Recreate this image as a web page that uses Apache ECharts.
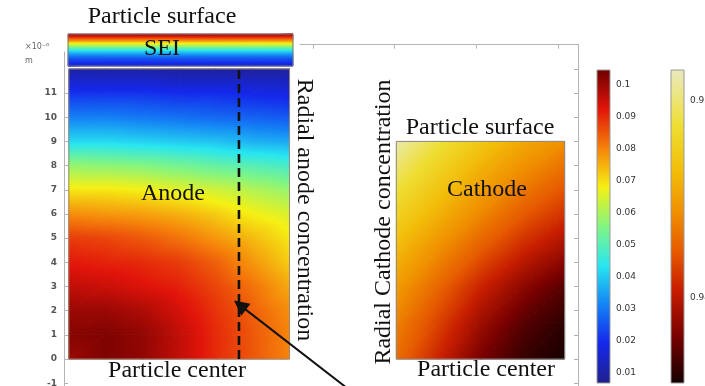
<!DOCTYPE html>
<html>
<head>
<meta charset="utf-8">
<script src="https://cdn.jsdelivr.net/npm/echarts@6/dist/echarts.min.js"></script>
<style>
html,body{margin:0;padding:0;background:#fff}
#chart{width:705px;height:386px}
</style>
</head>
<body>
<div id="chart"></div>
<script>
// anode particle (x, y in 1e-6 m), concentration at grid nodes, rows from y=0 upward
var anodeX = [0.2, 1.72, 3.24, 4.76, 6.28, 7.8, 9.32];
var anodeY = [0, 1, 2, 3, 4, 5, 6, 7, 8, 9, 10, 11, 12];
var anodeC = [
  [0.100, 0.103, 0.101, 0.096, 0.090, 0.085, 0.080],
  [0.102, 0.103, 0.101, 0.096, 0.090, 0.085, 0.080],
  [0.100, 0.100, 0.098, 0.094, 0.089, 0.084, 0.079],
  [0.096, 0.095, 0.093, 0.091, 0.087, 0.082, 0.076],
  [0.092, 0.091, 0.090, 0.088, 0.084, 0.078, 0.072],
  [0.088, 0.087, 0.085, 0.082, 0.078, 0.074, 0.069],
  [0.079, 0.078, 0.077, 0.075, 0.072, 0.068, 0.065],
  [0.069, 0.069, 0.068, 0.066, 0.064, 0.061, 0.058],
  [0.058, 0.057, 0.056, 0.054, 0.052, 0.050, 0.048],
  [0.042, 0.042, 0.041, 0.040, 0.039, 0.037, 0.036],
  [0.031, 0.031, 0.030, 0.029, 0.028, 0.027, 0.026],
  [0.021, 0.021, 0.021, 0.020, 0.020, 0.019, 0.018],
  [0.010, 0.010, 0.010, 0.009, 0.009, 0.009, 0.009]
];
// SEI layer on top of the anode
var seiX = [0.17, 9.46];
var seiY = [12.12, 12.45, 12.70, 12.94, 13.19, 13.44];
var seiC = [
  [0.016, 0.016],
  [0.026, 0.026],
  [0.039, 0.039],
  [0.058, 0.058],
  [0.080, 0.080],
  [0.100, 0.100]
];
// cathode particle
var cathodeX = [1.02, 1.535, 2.05, 2.57, 3.08];
var cathodeY = [0, 1.5, 3, 4.5, 6, 7.5, 9];
var cathodeC = [
  [0.9430, 0.9406, 0.9381, 0.9365, 0.9358],
  [0.9438, 0.9416, 0.9392, 0.9373, 0.9363],
  [0.9449, 0.9428, 0.9406, 0.9387, 0.9373],
  [0.9462, 0.9443, 0.9424, 0.9406, 0.9392],
  [0.9478, 0.9459, 0.9441, 0.9424, 0.9411],
  [0.9494, 0.9474, 0.9455, 0.9440, 0.9427],
  [0.9511, 0.9490, 0.9471, 0.9455, 0.9444]
];
// probe line and arrow
var probeLine = [[7.23, 0], [7.23, 12]];
var arrowLine = [[11.9, -1.36], [7.27, 2.23]];
// colour ranges
var anodeRange = [0.0069, 0.1047];
var anodeTicks = [0.01, 0.1];
var cathodeRange = [0.935685, 0.951574];
var cathodeTicks = [0.94, 0.95];

var jet = [[0,[32,32,140]],[0.13,[20,40,235]],[0.25,[20,130,245]],[0.375,[40,230,240]],[0.5,[130,245,130]],
  [0.625,[245,240,20]],[0.75,[245,130,10]],[0.875,[225,20,10]],[1,[110,0,0]]];
var hot = [[0,[20,0,0]],[0.15,[120,0,0]],[0.3,[200,30,0]],[0.42,[230,90,0]],[0.55,[240,145,0]],
  [0.68,[242,190,10]],[0.82,[238,222,50]],[0.92,[236,230,130]],[1,[234,232,190]]];

function cmapColor(cmap, t)
{
	t = Math.max(0, Math.min(1, t));
	for (var k = 1; k < cmap.length; k++) {
		if (t <= cmap[k][0]) {
			var a = cmap[k-1], b = cmap[k];
			var s = (t - a[0]) / (b[0] - a[0]);
			var c = [0,1,2].map(function(m){ return Math.round(a[1][m] + (b[1][m]-a[1][m])*s); });
			return 'rgb(' + c.join(',') + ')';
		}
	}
	return 'rgb(' + cmap[cmap.length-1][1].join(',') + ')';
}

// one triangle, filled with a gradient along its value slope
function tri(P, f, cmap, range)
{
	var span = range[1] - range[0];
	var col = function(v){ return cmapColor(cmap, (v - range[0]) / span); };
	var e1x = P[1][0]-P[0][0], e1y = P[1][1]-P[0][1];
	var e2x = P[2][0]-P[0][0], e2y = P[2][1]-P[0][1];
	var d1 = f[1]-f[0], d2 = f[2]-f[0];
	var det = e1x*e2y - e1y*e2x;
	var lo = 0, hi = 0;
	for (var k = 1; k < 3; k++) { if (f[k] < f[lo]) lo = k; if (f[k] > f[hi]) hi = k; }
	var fill;
	var d = f[hi] - f[lo];
	if (Math.abs(det) < 1e-9 || d < 1e-9) {
		fill = col(f[0]);
	} else {
		var gx = (d1*e2y - d2*e1y)/det, gy = (e1x*d2 - e2x*d1)/det;
		var g2 = gx*gx + gy*gy;
		var ax = P[lo][0], ay = P[lo][1];
		var bx = ax + gx/g2*d, by = ay + gy/g2*d;
		// stops at the ends and at every colour-map knot in between
		var stops = [{offset: 0, color: col(f[lo])}];
		cmap.forEach(function(c){
			var v = range[0] + c[0]*span;
			if (v > f[lo] && v < f[hi]) stops.push({offset: (v - f[lo])/d, color: col(v)});
		});
		stops.push({offset: 1, color: col(f[hi])});
		fill = new echarts.graphic.LinearGradient(ax, ay, bx, by, stops, true);
	}
	// stroke with the same paint so the shared edges have no light seams
	return {type: 'polygon', shape: {points: P},
		style: {fill: fill, stroke: fill, lineWidth: 1, lineJoin: 'round'}};
}

function fieldSeries(xs, ys, vals, cmap, range, axisIdx)
{
	var cells = [];
	for (var j = 0; j < ys.length-1; j++)
		for (var i = 0; i < xs.length-1; i++) cells.push([i, j]);
	return {
		type: 'custom', xAxisIndex: axisIdx, yAxisIndex: axisIdx, silent: true, clip: false,
		data: cells,
		renderItem: function(params, api) {
			var i = api.value(0), j = api.value(1);
			var p00 = api.coord([xs[i], ys[j]]), p10 = api.coord([xs[i+1], ys[j]]);
			var p11 = api.coord([xs[i+1], ys[j+1]]), p01 = api.coord([xs[i], ys[j+1]]);
			var v00 = vals[j][i], v10 = vals[j][i+1], v11 = vals[j+1][i+1], v01 = vals[j+1][i];
			return {type: 'group', children: [
				tri([p00, p10, p11], [v00, v10, v11], cmap, range),
				tri([p00, p11, p01], [v00, v11, v01], cmap, range)
			]};
		}
	};
}

function outlineSeries(xs, ys, axisIdx, color)
{
	return {
		type: 'custom', xAxisIndex: axisIdx, yAxisIndex: axisIdx, silent: true,
		data: [[xs[0], ys[0], xs[xs.length-1], ys[ys.length-1]]],
		renderItem: function(params, api) {
			var a = api.coord([api.value(0), api.value(1)]);
			var b = api.coord([api.value(2), api.value(3)]);
			return {type: 'rect', shape: {x: a[0], y: b[1], width: b[0]-a[0], height: a[1]-b[1]},
				style: {fill: null, stroke: color, lineWidth: 1}};
		}
	};
}

function barSeries(range, cmap, axisIdx, yIdx)
{
	var stops = cmap.map(function(c){ return {offset: c[0], color: 'rgb(' + c[1].join(',') + ')'}; });
	return {
		type: 'custom', xAxisIndex: axisIdx, yAxisIndex: yIdx, silent: true,
		data: [[0, range[0], 1, range[1]]],
		renderItem: function(params, api) {
			var a = api.coord([api.value(0), api.value(1)]);
			var b = api.coord([api.value(2), api.value(3)]);
			return {type: 'rect', shape: {x: a[0], y: b[1], width: b[0]-a[0], height: a[1]-b[1]},
				style: {fill: new echarts.graphic.LinearGradient(0, 1, 0, 0, stops), stroke: '#9a9a9a', lineWidth: 1}};
		}
	};
}

var myChart = echarts.init(document.getElementById('chart'), null, {renderer: 'canvas'});
var axisGray = '#b4b4b4';
var hidden = {show: false};
var noZeroLine = {show: true, onZero: false, lineStyle: {color: axisGray}};
var noLine = {show: false, onZero: false};
var serif = '"Liberation Serif", "Times New Roman", serif';
var sans = '"DejaVu Sans", sans-serif';

function txt(x, y, s, rot)
{
	return {type: 'text', x: x, y: y, z: 100, rotation: rot || 0, silent: true,
		style: {text: s, font: '24px ' + serif, fill: '#111', textAlign: 'center', align: 'center',
			textVerticalAlign: 'middle', verticalAlign: 'middle'}};
}
function gridAt(l, t, w, h)
{
	return {left: l, top: t, width: w, height: h, containLabel: false, outerBoundsMode: 'none'};
}

var option = {
	animation: false,
	backgroundColor: '#fff',
	grid: [
		gridAt(64, 52, 484, 355.4),
		gridAt(64, 93.02, 484, 314.38),
		gridAt(300, 44.7, 278, 362.7),
		gridAt(313, 44.7, 265, 362.7),
		gridAt(597, 70, 13, 313),
		gridAt(597, 85, 13, 288),
		gridAt(671, 70, 13, 313),
		gridAt(671, 101, 13, 197)
	],
	xAxis: [
		{gridIndex: 0, type: 'value', min: 0, max: 20, show: false},
		{gridIndex: 1, type: 'value', min: 0, max: 20, show: false},
		{gridIndex: 2, type: 'value', min: 0, max: 1, position: 'top',
			axisLine: noZeroLine, axisTick: hidden, axisLabel: hidden, splitLine: hidden},
		{gridIndex: 3, type: 'value', min: 0, max: 3.2436, interval: 1, position: 'top',
			axisLine: noLine, axisTick: {show: true, inside: true, length: 4, lineStyle: {color: axisGray}},
			axisLabel: hidden, splitLine: hidden},
		{gridIndex: 4, type: 'value', min: 0, max: 1, show: false},
		{gridIndex: 5, type: 'value', min: 0, max: 1, show: false},
		{gridIndex: 6, type: 'value', min: 0, max: 1, show: false},
		{gridIndex: 7, type: 'value', min: 0, max: 1, show: false}
	],
	yAxis: [
		{gridIndex: 0, type: 'value', min: -2, max: 12.7,
			axisLine: noZeroLine, axisTick: hidden, axisLabel: hidden, splitLine: hidden},
		{gridIndex: 1, type: 'value', min: -2, max: 11, interval: 1,
			axisLine: noLine, axisTick: {show: true, inside: true, length: 4, lineStyle: {color: axisGray}},
			axisLabel: {margin: 7, color: '#555', fontSize: 9, fontWeight: 'bold', fontFamily: sans},
			splitLine: hidden},
		{gridIndex: 2, type: 'value', min: -2, max: 13, interval: 1, position: 'right',
			axisLine: noZeroLine,
			axisTick: {show: true, inside: true, length: 4, lineStyle: {color: axisGray}},
			axisLabel: hidden, splitLine: hidden},
		{gridIndex: 3, type: 'value', min: -2, max: 13, show: false},
		{gridIndex: 4, type: 'value', min: anodeRange[0], max: anodeRange[1], show: false},
		{gridIndex: 5, type: 'value', min: anodeTicks[0], max: anodeTicks[1], interval: 0.01, position: 'right',
			axisLine: noLine, axisTick: {show: true, inside: true, length: 3, lineStyle: {color: '#333'}},
			axisLabel: {margin: 6, color: '#333', fontSize: 9, fontFamily: sans}, splitLine: hidden},
		{gridIndex: 5, type: 'value', min: anodeTicks[0], max: anodeTicks[1], interval: 0.01, position: 'left',
			axisLine: noLine, axisTick: {show: true, inside: true, length: 3, lineStyle: {color: '#333'}},
			axisLabel: hidden, splitLine: hidden},
		{gridIndex: 6, type: 'value', min: cathodeRange[0], max: cathodeRange[1], show: false},
		{gridIndex: 7, type: 'value', min: cathodeTicks[0], max: cathodeTicks[1], interval: 0.01, position: 'right',
			axisLine: noLine, axisTick: {show: true, inside: true, length: 3, lineStyle: {color: '#555'}},
			axisLabel: {margin: 6, color: '#333', fontSize: 9, fontFamily: sans}, splitLine: hidden},
		{gridIndex: 7, type: 'value', min: cathodeTicks[0], max: cathodeTicks[1], interval: 0.01, position: 'left',
			axisLine: noLine, axisTick: {show: true, inside: true, length: 3, lineStyle: {color: '#555'}},
			axisLabel: hidden, splitLine: hidden}
	],
	series: [
		fieldSeries(seiX, seiY, seiC, jet, anodeRange, 0),
		outlineSeries(seiX, seiY, 0, '#7a7a7a'),
		fieldSeries(anodeX, anodeY, anodeC, jet, anodeRange, 0),
		outlineSeries(anodeX, anodeY, 0, '#9a8a7a'),
		fieldSeries(cathodeX, cathodeY, cathodeC, hot, cathodeRange, 3),
		outlineSeries(cathodeX, cathodeY, 3, '#8a8a8a'),
		{
			type: 'line', xAxisIndex: 0, yAxisIndex: 0, data: probeLine, symbol: 'none', silent: true,
			lineStyle: {color: '#111', width: 2.6, type: [9, 5]}
		},
		{
			type: 'lines', coordinateSystem: 'cartesian2d', xAxisIndex: 0, yAxisIndex: 0, silent: true,
			symbol: ['none', 'triangle'], symbolSize: [11, 15],
			lineStyle: {color: '#111', width: 2, opacity: 1},
			data: [{coords: arrowLine}]
		},
		barSeries(anodeRange, jet, 4, 4),
		barSeries(cathodeRange, hot, 6, 7)
	],
	graphic: [
		txt(162, 17, 'Particle surface'),
		txt(162, 49, 'SEI'),
		txt(173, 194, 'Anode'),
		txt(177, 371, 'Particle center'),
		txt(304, 210, 'Radial anode concentration', -Math.PI/2),
		txt(384, 222, 'Radial Cathode concentration', Math.PI/2),
		txt(480, 128, 'Particle surface'),
		txt(487, 190, 'Cathode'),
		txt(486, 370, 'Particle center'),
		{type: 'text', x: 25, y: 47, z: 100, silent: true,
			style: {text: '\u00d710\u207b\u2076', font: '8px ' + sans, fill: '#666', textVerticalAlign: 'middle', verticalAlign: 'middle'}},
		{type: 'text', x: 25, y: 61, z: 100, silent: true,
			style: {text: 'm', font: '8px ' + sans, fill: '#666', textVerticalAlign: 'middle', verticalAlign: 'middle'}}
	]
};
myChart.setOption(option);
</script>
</body>
</html>
